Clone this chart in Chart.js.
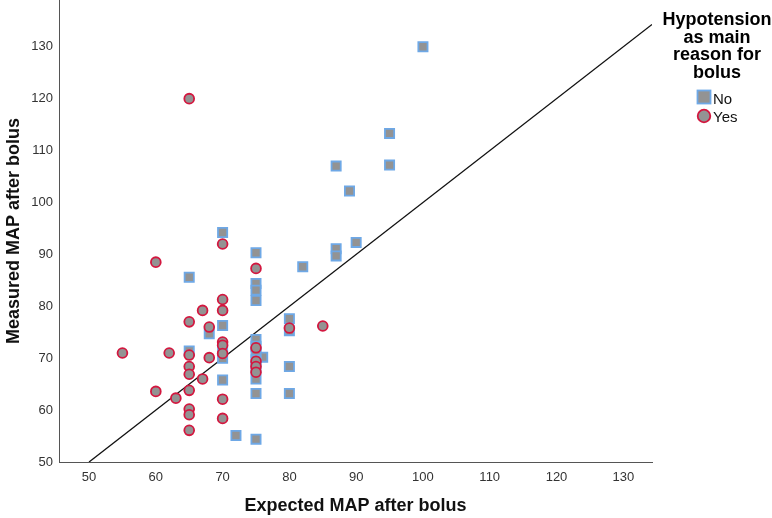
<!DOCTYPE html>
<html>
<head>
<meta charset="utf-8">
<script src="https://cdn.jsdelivr.net/npm/chart.js@4"></script>
<style>
  html, body { margin: 0; padding: 0; background: #fff; }
  #wrap { width: 772px; height: 518px; position: relative; }
</style>
</head>
<body>
<div id="wrap"><canvas id="chart"></canvas></div>
<script>
// Expected vs measured MAP, split by "hypotension as main reason for bolus"
const noExpected = [100, 95, 95, 87, 89, 90, 87, 87, 82, 75, 75, 75, 75, 70, 65, 80, 80, 80, 80, 76,
                    75, 75, 75, 75, 75, 75, 75, 75, 72, 70, 70, 70, 70, 68, 65];
const noMeasured = [130, 113.3, 107.2, 107, 102.2, 92.3, 91.1, 89.7, 87.6, 90.3, 84.4, 83.1, 81.1, 94.2, 85.6, 77.6, 75.3, 68.4, 63.2, 70.2,
                    73.6, 72.3, 71.0, 69.7, 68.2, 66.0, 63.2, 54.4, 55.1, 76.3, 71.6, 70.0, 65.8, 74.7, 71.4];

const yesExpected = [65, 70, 60, 75, 70, 67, 70, 65, 68, 85, 80, 55, 62, 65, 65, 65, 68, 67, 65, 60,
                     63, 65, 65, 65, 70, 70, 70, 70, 70, 75, 75, 75, 75];
const yesMeasured = [120, 92, 88.5, 87.3, 81.3, 79.2, 79.2, 77, 76, 76.2, 75.8, 71, 71, 70.6, 68.4, 66.9, 70.1, 66, 63.8, 63.6,
                     62.3, 60.2, 59.1, 56.1, 73.1, 72.5, 70.9, 62.1, 58.4, 72.0, 69.4, 68.4, 67.3];

const refLine = [50, 134.3];          // y = x reference line
const xTicks = [50, 60, 70, 80, 90, 100, 110, 120, 130];
const yTicks = [50, 60, 70, 80, 90, 100, 110, 120, 130];

const legendTitle = ['Hypotension', 'as main', 'reason for', 'bolus'];
const seriesNames = ['No', 'Yes'];

const FONT = "'Liberation Sans', Arial, sans-serif";
const GREY = '#939393';
const BLUE = '#6ea8e6';
const RED = '#d3173f';

const toPoints = (xs, ys) => xs.map((x, i) => ({ x, y: ys[i] }));

// draws the legend block to the right of the plot (multi-line title)
const sideLegend = {
    id: 'sideLegend',
    afterDraw(chart) {
        const ctx = chart.ctx;
        const cx = 717;
        ctx.save();
        ctx.fillStyle = '#000';
        ctx.textAlign = 'center';
        ctx.textBaseline = 'alphabetic';
        ctx.font = `bold 18px ${FONT}`;
        legendTitle.forEach((line, i) => ctx.fillText(line, cx, 25 + i * 17.6));

        // "No" square
        ctx.lineWidth = 1.8;
        ctx.fillStyle = GREY;
        ctx.strokeStyle = BLUE;
        ctx.fillRect(697.5, 90.5, 13, 13);
        ctx.strokeRect(697.5, 90.5, 13, 13);
        // "Yes" circle
        ctx.strokeStyle = RED;
        ctx.beginPath();
        ctx.arc(704, 116, 6.3, 0, Math.PI * 2);
        ctx.fill();
        ctx.stroke();

        ctx.fillStyle = '#111';
        ctx.textAlign = 'left';
        ctx.font = `15px ${FONT}`;
        ctx.fillText(seriesNames[0], 713, 104);
        ctx.fillText(seriesNames[1], 713, 122);
        ctx.restore();
    }
};

// fixed axis sizes, no extra edge padding so the plot reaches the top
const fixX = scale => { scale.height = 56; scale.paddingLeft = 0; scale.paddingRight = 0; };
const fixY = scale => { scale.width = 59; scale.paddingTop = 0; scale.paddingBottom = 0; };

new Chart(document.getElementById('chart'), {
    type: 'scatter',
    data: {
        datasets: [
            {
                label: seriesNames[0],
                data: toPoints(noExpected, noMeasured),
                pointStyle: 'rect',
                pointRadius: 6.5,
                pointHoverRadius: 6.5,
                pointBorderWidth: 1.8,
                backgroundColor: GREY,
                borderColor: BLUE,
                order: 2
            },
            {
                label: seriesNames[1],
                data: toPoints(yesExpected, yesMeasured),
                pointStyle: 'circle',
                pointRadius: 4.9,
                pointHoverRadius: 4.9,
                pointBorderWidth: 1.8,
                backgroundColor: GREY,
                borderColor: RED,
                order: 1
            },
            {
                type: 'line',
                label: 'reference',
                data: toPoints(refLine, refLine),
                borderColor: '#111',
                borderWidth: 1.3,
                pointRadius: 0,
                fill: false,
                order: 3
            }
        ]
    },
    options: {
        responsive: true,
        maintainAspectRatio: false,
        animation: false,
        events: [],
        layout: { autoPadding: false, padding: { left: 0, right: 120, top: 0, bottom: 0 } },
        plugins: {
            legend: { display: false },
            tooltip: { enabled: false }
        },
        scales: {
            x: {
                type: 'linear',
                min: 45.5,
                max: 134.3,
                afterBuildTicks: scale => { scale.ticks = xTicks.map(v => ({ value: v })); },
                afterFit: fixX,
                grid: { display: false, drawTicks: false },
                border: { display: true, color: '#555', width: 1 },
                ticks: { color: '#333', font: { family: FONT, size: 13 }, padding: 8, maxRotation: 0 },
                title: {
                    display: true,
                    text: 'Expected MAP after bolus',
                    color: '#111',
                    font: { family: FONT, size: 18, weight: 'bold' },
                    padding: { top: 0, bottom: 1 }
                }
            },
            y: {
                type: 'linear',
                min: 50,
                max: 139,
                afterBuildTicks: scale => { scale.ticks = yTicks.map(v => ({ value: v })); },
                afterFit: fixY,
                grid: { display: false, drawTicks: false },
                border: { display: true, color: '#555', width: 1 },
                ticks: { color: '#333', font: { family: FONT, size: 13 }, padding: 6 },
                title: {
                    display: true,
                    text: 'Measured MAP after bolus',
                    color: '#111',
                    font: { family: FONT, size: 18, weight: 'bold' },
                    padding: { top: 3, bottom: 0 }
                }
            }
        }
    },
    plugins: [sideLegend]
});
</script>
</body>
</html>
